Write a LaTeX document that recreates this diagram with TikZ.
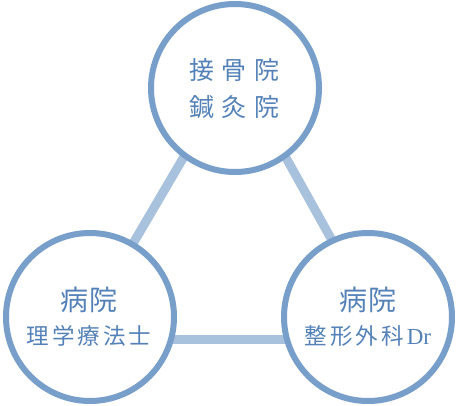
\documentclass[tikz,border=0pt]{standalone}
\usepackage{fontspec}
\newfontfamily\jp{Noto Sans CJK JP}
\setmainfont{Liberation Serif}
\definecolor{ring}{HTML}{789ECA}
\definecolor{link}{HTML}{A8C2DD}
\definecolor{txt}{HTML}{5482B8}
\begin{document}
\begin{tikzpicture}[x=1pt,y=-1pt,
  ringnode/.style={circle,draw=ring,line width=6pt,fill=white,minimum size=168pt,inner sep=0pt},
  linkline/.style={draw=link,line width=9pt},
  lbl/.style={text=txt,inner sep=0pt,anchor=center,font=\jp}]
\useasboundingbox (0,0) rectangle (458,406);
\coordinate (a) at (236,68);
\coordinate (b) at (77,339);
\coordinate (c) at (387,339);
\draw[linkline] (a) -- (b);
\draw[linkline] (a) -- (c);
\draw[linkline] (b) -- (c);
\node[ringnode] (top) at (235,88) {};
\node[ringnode] (bl) at (90,317) {};
\node[ringnode] (br) at (368,317) {};
\node[lbl,font=\jp\fontsize{25}{26}\selectfont] (t1) at (234,70) {接\hspace{7.5pt}骨\hspace{7.5pt}院};
\node[lbl,font=\jp\fontsize{25}{26}\selectfont] (t2) at (234,107) {鍼\hspace{7.5pt}灸\hspace{7.5pt}院};
\node[lbl,font=\jp\fontsize{28}{30}\selectfont] (l1) at (89,300) {病\hspace{2pt}院};
\node[lbl,font=\jp\fontsize{22.5}{24}\selectfont] (l2) at (89,336) {理\hspace{3pt}学\hspace{3pt}療\hspace{3pt}法\hspace{3pt}士};
\node[lbl,font=\jp\fontsize{28}{30}\selectfont] (r1) at (368,300) {病\hspace{2pt}院};
\node[lbl,font=\jp\fontsize{22.5}{24}\selectfont] (r2) at (368,336) {整\hspace{3pt}形\hspace{3pt}外\hspace{3pt}科\hspace{3pt}{\rmfamily\fontsize{23}{24}\selectfont Dr}};
\end{tikzpicture}
\end{document}
